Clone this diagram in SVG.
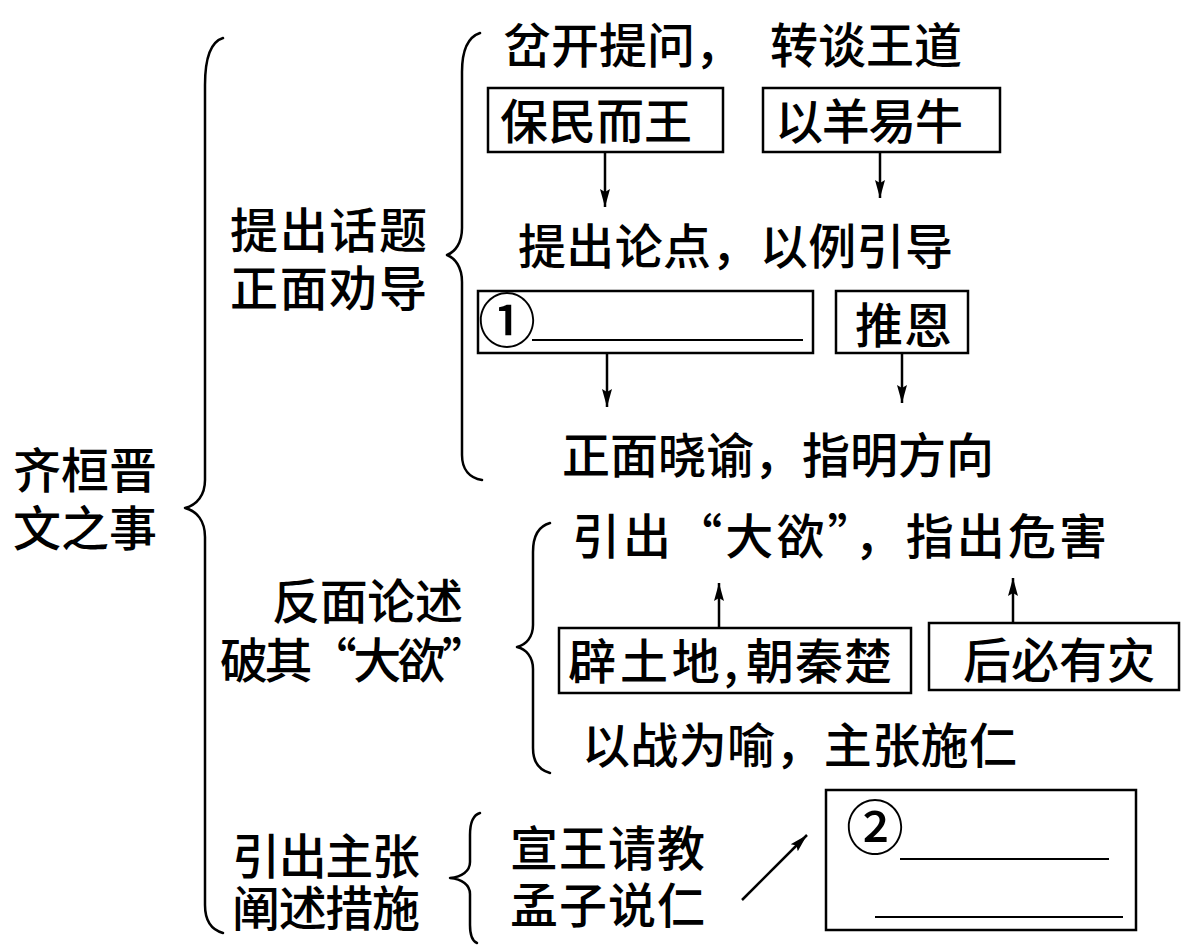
<svg xmlns="http://www.w3.org/2000/svg" width="1200" height="945" viewBox="0 0 1200 945">
<defs>
<style>
.t{font-family:"Noto Sans CJK SC","Liberation Serif",sans-serif;font-size:48px;font-weight:500;fill:#000;}
.box{fill:none;stroke:#000;stroke-width:2.5;}
.br{fill:none;stroke:#000;stroke-width:2.5;stroke-linecap:round;stroke-linejoin:round;}
.ar{fill:none;stroke:#000;stroke-width:2.5;marker-end:url(#ah);}
.ul{stroke:#000;stroke-width:2;}
</style>
<marker id="ah" markerUnits="userSpaceOnUse" markerWidth="20" markerHeight="12" refX="18" refY="6" orient="auto">
<path d="M0,1 L18,6 L0,11 L3,6 z" fill="#000"/>
</marker>
</defs>
<rect width="1200" height="945" fill="#fff"/>

<g id="root">
<text class="t"><tspan x="13" y="488" textLength="144" lengthAdjust="spacing">齐桓晋</tspan><tspan x="13" y="546" textLength="144" lengthAdjust="spacing">文之事</tspan></text>
</g>

<g id="braces">
<path class="br" d="M223,38 C210,42 205,58 205,85 L205,480 C205,495 197,505 185,508 C197,511 205,521 205,537 L205,905 C205,922 212,930 223,933"/>
<path class="br" d="M480,33 C468,37 462,50 462,72 L462,228 C462,243 455,252 447,255 C455,258 462,267 462,282 L462,455 C462,470 470,478 482,480"/>
<path class="br" d="M550,523 C539,526 533,536 533,552 L533,625 C533,637 526,645 517,647 C526,649 533,657 533,669 L533,748 C533,762 539,770 550,773"/>
<path class="br" d="M480,813 C473,815 470,823 470,835 L470,862 C470,871 462,877 450,878 C462,879 470,885 470,894 L470,925 C470,936 472,941 477,943"/>
</g>

<g id="sec1-label">
<text class="t"><tspan x="230" y="248" textLength="197" lengthAdjust="spacing">提出话题</tspan><tspan x="230" y="306" textLength="197" lengthAdjust="spacing">正面劝导</tspan></text>
</g>

<g id="q1">
<text class="t" x="503" y="63" textLength="240" lengthAdjust="spacing">岔开提问，</text>
</g>
<g id="q2">
<text class="t" x="770" y="63" textLength="192" lengthAdjust="spacing">转谈王道</text>
</g>
<g id="baomin">
<rect class="box" x="488" y="88" width="235" height="64"/>
<text class="t" x="500" y="139" textLength="192" lengthAdjust="spacing">保民而王</text>
</g>
<g id="yiyang">
<rect class="box" x="763" y="88" width="237" height="64"/>
<text class="t" x="775" y="139" textLength="188" lengthAdjust="spacing">以羊易牛</text>
</g>
<g id="lundian">
<text class="t" x="518" y="264" textLength="435" lengthAdjust="spacing">提出论点，以例引导</text>
</g>
<g id="blank1">
<rect class="box" x="478" y="291" width="335" height="62"/>
<text class="t" x="507" y="342" text-anchor="middle" style="font-size:58px">①</text>
<line class="ul" x1="532" y1="340" x2="803" y2="340"/>
</g>
<g id="tuien">
<rect class="box" x="836" y="291" width="132" height="62"/>
<text class="t" x="855" y="343" textLength="97" lengthAdjust="spacing">推恩</text>
</g>
<g id="xiaoyu">
<text class="t" x="562" y="473" textLength="432" lengthAdjust="spacing">正面晓谕，指明方向</text>
</g>

<g id="sec2-label">
<text class="t"><tspan x="272" y="619" textLength="191" lengthAdjust="spacing">反面论述</tspan><tspan x="220" y="678" textLength="270" lengthAdjust="spacing">破其“大欲”</tspan></text>
</g>
<g id="dayu">
<text class="t" x="572" y="554" textLength="535" lengthAdjust="spacing">引出“大欲”，指出危害</text>
</g>
<g id="pitudi">
<rect class="box" x="559" y="628" width="352" height="65"/>
<text class="t"><tspan x="568" y="679" textLength="170" lengthAdjust="spacing">辟土地,</tspan><tspan x="746" y="679" textLength="146" lengthAdjust="spacing">朝秦楚</tspan></text>
</g>
<g id="houbi">
<rect class="box" x="929" y="623" width="250" height="67"/>
<text class="t" x="963" y="678" textLength="192" lengthAdjust="spacing">后必有灾</text>
</g>
<g id="zhanyu">
<text class="t" x="582" y="763" textLength="435" lengthAdjust="spacing">以战为喻，主张施仁</text>
</g>

<g id="sec3-label">
<text class="t"><tspan x="232" y="874" textLength="188" lengthAdjust="spacing">引出主张</tspan><tspan x="232" y="926" textLength="188" lengthAdjust="spacing">阐述措施</tspan></text>
</g>
<g id="qingjiao">
<text class="t"><tspan x="510" y="866" textLength="195" lengthAdjust="spacing">宣王请教</tspan><tspan x="510" y="923" textLength="195" lengthAdjust="spacing">孟子说仁</tspan></text>
</g>
<g id="blank2">
<rect class="box" x="826" y="790" width="310" height="140"/>
<text class="t" x="875" y="849" text-anchor="middle" style="font-size:58px">②</text>
<line class="ul" x1="900" y1="859" x2="1109" y2="859"/>
<line class="ul" x1="875" y1="917" x2="1123" y2="917"/>
</g>

<g id="connectors">
<line class="ar" x1="605" y1="153" x2="605" y2="207"/>
<line class="ar" x1="880" y1="153" x2="880" y2="198"/>
<line class="ar" x1="607" y1="353" x2="607" y2="407"/>
<line class="ar" x1="902" y1="353" x2="902" y2="403"/>
<line class="ar" x1="719" y1="627" x2="719" y2="583"/>
<line class="ar" x1="1013" y1="622" x2="1013" y2="578"/>
<line class="ar" x1="742" y1="900" x2="807" y2="835"/>
</g>
</svg>
